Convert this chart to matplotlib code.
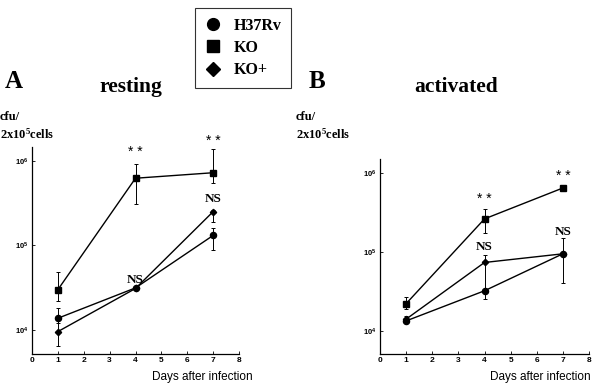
import matplotlib
matplotlib.use("Agg")
import matplotlib.pyplot as plt
from matplotlib.lines import Line2D
import numpy as np

plt.rcParams["mathtext.fontset"] = "custom"
plt.rcParams["mathtext.rm"] = "Liberation Serif:bold"
plt.rcParams["mathtext.bf"] = "Liberation Serif:bold"
plt.rcParams["mathtext.sf"] = "Liberation Sans:bold"
plt.rcParams["mathtext.it"] = "Liberation Serif:bold"

days = [1, 4, 7]
series = ["H37Rv", "KO", "KO+"]
markers = {"H37Rv": "o", "KO": "s", "KO+": "D"}
msizes = {"H37Rv": 4.4, "KO": 4.4, "KO+": 3.2}

# resting
rest_h37 = [1.38e4, 3.15e4, 1.31e5]
rest_h37_lo = [1.2e4, 3.15e4, 8.7e4]
rest_h37_hi = [1.8e4, 3.15e4, 1.6e5]
rest_ko = [3.0e4, 6.2e5, 7.2e5]
rest_ko_lo = [2.2e4, 3.1e5, 5.5e5]
rest_ko_hi = [4.8e4, 9.2e5, 1.36e6]
rest_kop = [9.6e3, 3.1e4, 2.5e5]
rest_kop_lo = [6.5e3, 3.1e4, 1.9e5]
rest_kop_hi = [1.3e4, 3.1e4, 2.6e5]

# activated
act_h37 = [1.33e4, 3.2e4, 9.4e4]
act_h37_lo = [1.25e4, 2.5e4, 4.0e4]
act_h37_hi = [1.4e4, 3.2e4, 1.48e5]
act_ko = [2.2e4, 2.6e5, 6.4e5]
act_ko_lo = [1.9e4, 1.7e5, 6.4e5]
act_ko_hi = [2.7e4, 3.5e5, 6.4e5]
act_kop = [1.4e4, 7.3e4, 9.4e4]
act_kop_lo = [1.3e4, 3.2e4, 9.4e4]
act_kop_hi = [1.55e4, 9.1e4, 9.4e4]

xticks = [0, 1, 2, 3, 4, 5, 6, 7, 8]
yticks = [1e4, 1e5, 1e6]
ytick_labels = [r"$\mathsf{10^{4}}$", r"$\mathsf{10^{5}}$", r"$\mathsf{10^{6}}$"]

# annotations: (day, value, text)
rest_annot = [(4, 1.25e6, "**"), (7, 1.7e6, "**"), (4, 3.9e4, "NS"), (7, 3.5e5, "NS")]
act_annot = [(4, 4.6e5, "**"), (7, 9.0e5, "**"), (4, 1.15e5, "NS"), (7, 1.75e5, "NS")]

W, H = 592, 383
fig = plt.figure(figsize=(W / 100, H / 100), dpi=100)
fig.patch.set_facecolor("white")

def px_axes(l, r, t, b):
    return fig.add_axes([l / W, 1 - b / H, (r - l) / W, (b - t) / H])

axA = px_axes(32, 239, 147, 354)
axB = px_axes(380, 589, 159, 354)

panels = [
    (axA, [(rest_h37, rest_h37_lo, rest_h37_hi, "H37Rv"),
           (rest_ko, rest_ko_lo, rest_ko_hi, "KO"),
           (rest_kop, rest_kop_lo, rest_kop_hi, "KO+")],
     (10 ** 3.718, 10 ** 6.161), rest_annot),
    (axB, [(act_h37, act_h37_lo, act_h37_hi, "H37Rv"),
           (act_ko, act_ko_lo, act_ko_hi, "KO"),
           (act_kop, act_kop_lo, act_kop_hi, "KO+")],
     (10 ** 3.705, 10 ** 6.173), act_annot),
]

for ax, data, ylim, annots in panels:
    for vals, lo, hi, name in data:
        v = np.array(vals)
        yerr = np.vstack([v - np.array(lo), np.array(hi) - v])
        ax.errorbar(days, v, yerr=yerr, color="black", lw=1.0,
                    elinewidth=0.7, capsize=1.2, capthick=0.7,
                    marker=markers[name], ms=msizes[name],
                    mfc="black", mec="black")
    ax.set_yscale("log")
    ax.set_xlim(0, 8)
    ax.set_ylim(*ylim)
    ax.set_yticks(yticks)
    ax.set_yticklabels(ytick_labels)
    ax.minorticks_off()
    ax.set_xticks(xticks)
    ax.set_xticklabels([str(t) for t in xticks], fontweight="bold",
                       family="Liberation Sans")
    ax.tick_params(axis="both", direction="in", length=2, width=0.6,
                   labelsize=6, pad=2.5)
    ax.tick_params(axis="y", labelsize=5.5)
    for s in ["top", "right"]:
        ax.spines[s].set_visible(False)
    for s in ["left", "bottom"]:
        ax.spines[s].set_linewidth(0.9)
    for d, y, t in annots:
        if t == "**":
            ax.text(d, y, "* *", ha="center", va="center", fontsize=10,
                    family="Liberation Sans")
        else:
            ax.text(d, y, t, ha="center", va="center", fontsize=9.5,
                    family="Liberation Serif", fontweight="bold")

serif = "Liberation Serif"
fig.text(14 / W, 1 - 82 / H, "A", ha="center", va="center", fontsize=18,
         family=serif, fontweight="bold")
fig.text(131 / W, 1 - 87 / H, "resting", ha="center", va="center",
         fontsize=15.5, family=serif, fontweight="bold")
fig.text(317 / W, 1 - 82 / H, "B", ha="center", va="center", fontsize=18,
         family=serif, fontweight="bold")
fig.text(456 / W, 1 - 87 / H, "activated", ha="center", va="center",
         fontsize=15.5, family=serif, fontweight="bold")

for x0 in (0, 296):
    fig.text(x0 / W, 1 - 117 / H, "cfu/", ha="left", va="center",
             fontsize=9, family=serif, fontweight="bold")
    fig.text(x0 / W, 1 - 134 / H, r"2x10$^{5}$cells", ha="left",
             va="center", fontsize=9, family=serif, fontweight="bold")

fig.text(253 / W, 1 - 377 / H, "Days after infection", ha="right",
         va="center", fontsize=8.5, family="Liberation Sans")
fig.text(591 / W, 1 - 377 / H, "Days after infection", ha="right",
         va="center", fontsize=8.5, family="Liberation Sans")

handles = [Line2D([], [], ls="none", marker=markers[n], color="black",
                  ms=8.5 if n != "KO+" else 7) for n in series]
leg = fig.legend(handles, series, loc="upper center",
                 bbox_to_anchor=(243 / W, 1.0), frameon=True, fancybox=False,
                 edgecolor="black", handlelength=1.0, handletextpad=0.8,
                 labelspacing=0.4, borderpad=0.6,
                 prop={"family": serif, "weight": "bold", "size": 11.5})
leg.get_frame().set_linewidth(0.8)

fig.savefig("out.png", dpi=100, facecolor="white")
